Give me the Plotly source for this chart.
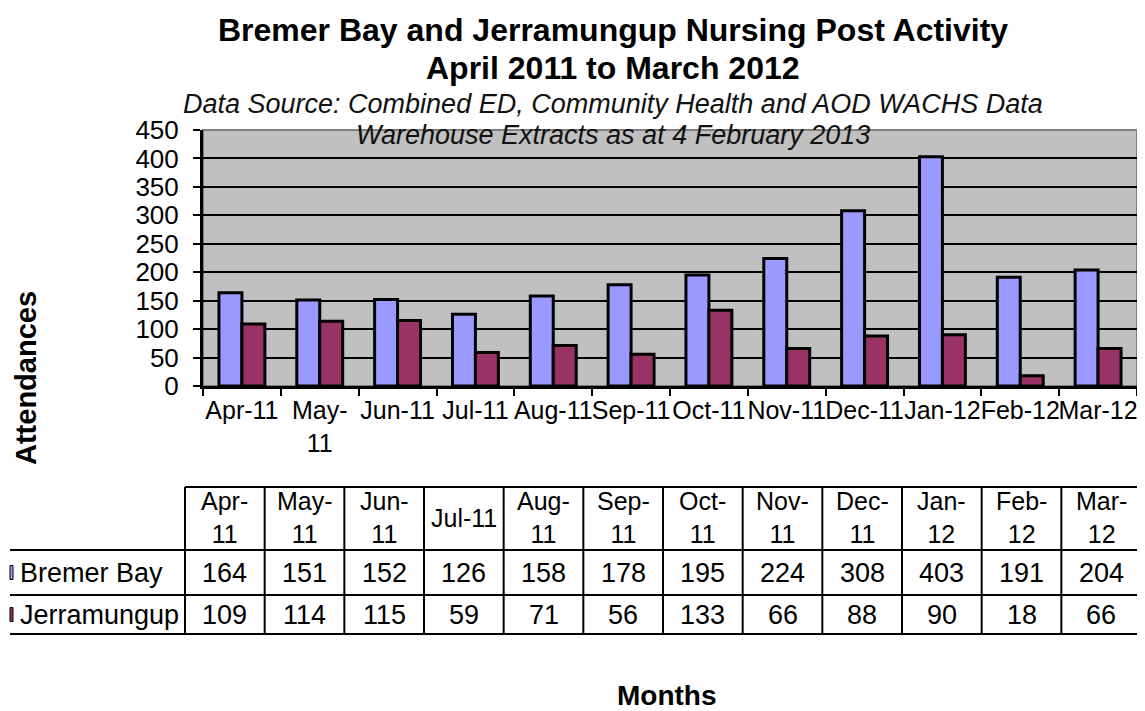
import plotly.graph_objects as go

months = ["Apr-11", "May-11", "Jun-11", "Jul-11", "Aug-11", "Sep-11",
          "Oct-11", "Nov-11", "Dec-11", "Jan-12", "Feb-12", "Mar-12"]
axis_labels = ["Apr-11", "May-<br>11", "Jun-11", "Jul-11", "Aug-11", "Sep-11",
               "Oct-11", "Nov-11", "Dec-11", "Jan-12", "Feb-12", "Mar-12"]
table_headers = ["Apr-<br>11", "May-<br>11", "Jun-<br>11", "Jul-11", "Aug-<br>11", "Sep-<br>11",
                 "Oct-<br>11", "Nov-<br>11", "Dec-<br>11", "Jan-<br>12", "Feb-<br>12", "Mar-<br>12"]
bremer_bay = [164, 151, 152, 126, 158, 178, 195, 224, 308, 403, 191, 204]
jerramungup = [109, 114, 115, 59, 71, 56, 133, 66, 88, 90, 18, 66]
series_names = ["Bremer Bay", "Jerramungup"]
series_colors = ["#9999FF", "#993366"]

FONT = "Liberation Sans, Arial, sans-serif"
OFF = 8  # default page body margin
PAGE_W, PAGE_H = 1145, 711
W_FIG, H_FIG = PAGE_W - OFF, PAGE_H - OFF
# plot area in page pixels
L, R, T, B = 203, 1137, 130, 386
PW, PH = R - L, B - T


def px(x):
    return (x - L) / PW


def py(y):
    return (B - y) / PH


fig = go.Figure()
for name, vals, col in zip(series_names, [bremer_bay, jerramungup], series_colors):
    fig.add_trace(go.Bar(x=months, y=vals, name=name,
                         marker=dict(color=col, line=dict(color="black", width=3))))

ann = []
shapes = []

ann.append(dict(text="<b>Bremer Bay and Jerramungup Nursing Post Activity</b>", x=px(613), y=py(30),
                font=dict(size=32)))
ann.append(dict(text="<b>April 2011 to March 2012</b>", x=px(613), y=py(68), font=dict(size=32)))
ann.append(dict(text="<i>Data Source: Combined ED, Community Health and AOD WACHS Data</i>",
                x=px(613), y=py(104), font=dict(size=27, color="#111")))
ann.append(dict(text="<i>Warehouse Extracts as at 4 February 2013</i>",
                x=px(613), y=py(135), font=dict(size=27, color="#111")))
ann.append(dict(text="<b>Attendances</b>", x=px(26), y=py(378), textangle=-90, font=dict(size=29)))
ann.append(dict(text="<b>Months</b>", x=px(667), y=py(695), font=dict(size=28)))

# data table
n = len(months)
x0, x1 = 185, 1141
cw = (x1 - x0) / n
rows_y = [487, 550, 595, 634]
line = dict(color="black", width=2)
shapes.append(dict(type="line", xref="paper", yref="paper", x0=px(x0), x1=px(x1),
                   y0=py(rows_y[0]), y1=py(rows_y[0]), line=line))
for yy in rows_y[1:]:
    shapes.append(dict(type="line", xref="paper", yref="paper", x0=px(10), x1=px(x1),
                       y0=py(yy), y1=py(yy), line=line))
for i in range(n + 1):
    xx = x0 + i * cw
    shapes.append(dict(type="line", xref="paper", yref="paper", x0=px(xx), x1=px(xx),
                       y0=py(rows_y[0]), y1=py(rows_y[-1]), line=line))

for i in range(n):
    cx = x0 + (i + 0.5) * cw
    ann.append(dict(text=table_headers[i], x=px(cx), y=py((rows_y[0] + rows_y[1]) / 2 - 1),
                    font=dict(size=25)))
    for r, vals in enumerate([bremer_bay, jerramungup]):
        ann.append(dict(text=str(vals[i]), x=px(cx), y=py((rows_y[r + 1] + rows_y[r + 2]) / 2),
                        font=dict(size=27)))

for r, (name, col) in enumerate(zip(series_names, series_colors)):
    cy = (rows_y[r + 1] + rows_y[r + 2]) / 2
    ann.append(dict(text=name, x=px(18), y=py(cy), xanchor="left", font=dict(size=27)))
    shapes.append(dict(type="rect", xref="paper", yref="paper", x0=px(10), x1=px(13),
                       y0=py(cy + 7), y1=py(cy - 7), fillcolor=col, line=dict(color="black", width=1)))

# plot frame (gray top/right)
shapes.append(dict(type="rect", xref="paper", yref="paper", x0=0, x1=1, y0=0, y1=1,
                   line=dict(color="#808080", width=2), layer="below"))

for a in ann:
    a.setdefault("xref", "paper")
    a.setdefault("yref", "paper")
    a.setdefault("showarrow", False)
    a.setdefault("xanchor", "center")
    a.setdefault("yanchor", "middle")
    a["font"].setdefault("color", "black")
    a["font"].setdefault("family", FONT)

fig.update_layout(
    width=W_FIG, height=H_FIG,
    margin=dict(l=L - OFF, r=W_FIG - (R - OFF), t=T - OFF, b=H_FIG - (B - OFF), pad=0),
    paper_bgcolor="white", plot_bgcolor="#C0C0C0",
    barmode="group", bargap=0.41, bargroupgap=0,
    showlegend=False,
    font=dict(family=FONT, color="black"),
    annotations=ann, shapes=shapes,
)
fig.update_xaxes(type="category", tickvals=months, ticktext=axis_labels, tickangle=0,
                 tickson="boundaries", ticks="outside", ticklen=7, tickwidth=2, tickcolor="black",
                 showline=True, linecolor="black", linewidth=3, showgrid=False,
                 tickfont=dict(size=25, family=FONT, color="black"), automargin=False)
fig.update_yaxes(range=[0, 450], dtick=50, ticks="outside", ticklen=7, tickwidth=2, tickcolor="black",
                 showline=True, linecolor="black", linewidth=3, ticklabelstandoff=9,
                 showgrid=True, gridcolor="black", gridwidth=2, zeroline=False,
                 tickfont=dict(size=26, family=FONT, color="black"), automargin=False)

fig.write_html("out.html")
